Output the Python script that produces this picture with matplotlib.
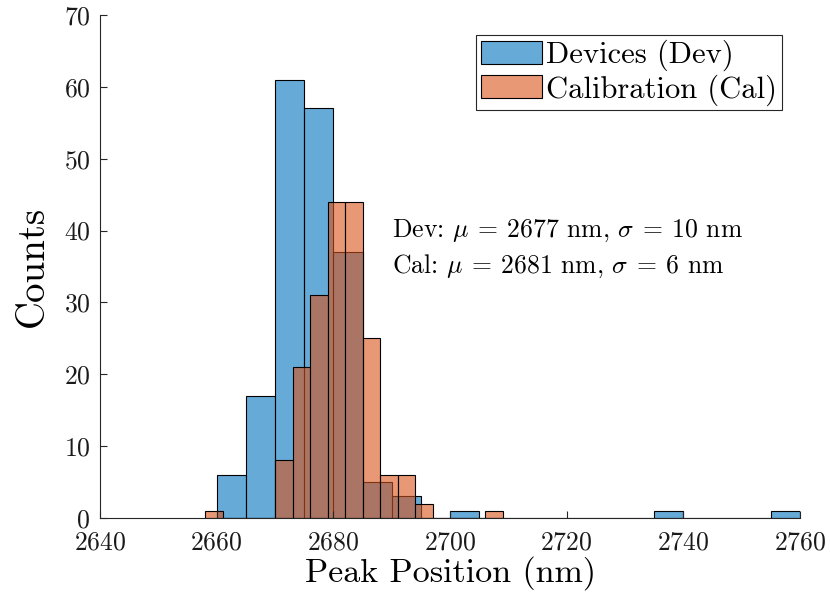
import numpy as np
import matplotlib
matplotlib.use("Agg")
import matplotlib.pyplot as plt

plt.rcParams["font.family"] = "serif"
plt.rcParams["font.serif"] = ["cmr10", "DejaVu Serif"]
plt.rcParams["mathtext.fontset"] = "cm"
plt.rcParams["axes.formatter.use_mathtext"] = True

# Histogram bin edges and counts
dev_edges = np.arange(2660, 2761, 5)
dev_counts = [6, 17, 61, 57, 37, 5, 3, 0, 1, 0, 0, 0, 0, 0, 0, 1, 0, 0, 0, 1]
cal_edges = np.arange(2658, 2710, 3)
cal_counts = [1, 0, 0, 0, 8, 21, 31, 44, 44, 25, 6, 6, 2, 0, 0, 0, 1]

dev_label = "Devices (Dev)"
cal_label = "Calibration (Cal)"
dev_stats = r"Dev: $\mu\:=\:2677$ nm, $\sigma\:=\:10$ nm"
cal_stats = r"Cal: $\mu\:=\:2681$ nm, $\sigma\:=\:6$ nm"

blue = (0.0, 0.447, 0.741, 0.6)
orange = (0.85, 0.325, 0.098, 0.6)
axis_gray = (0.15, 0.15, 0.15)

fig = plt.figure(figsize=(8.3, 5.96), dpi=100)
ax = fig.add_axes([0.1205, 0.1309, 0.8434, 0.844])

ax.bar(dev_edges[:-1], dev_counts, width=np.diff(dev_edges), align="edge",
       facecolor=blue, edgecolor="black", linewidth=0.8, label=dev_label)
ax.bar(cal_edges[:-1], cal_counts, width=np.diff(cal_edges), align="edge",
       facecolor=orange, edgecolor="black", linewidth=0.8, label=cal_label)

ax.set_xlim(2640, 2760)
ax.set_ylim(0, 70)
ax.set_xticks(np.arange(2640, 2761, 20))
ax.set_yticks(np.arange(0, 71, 10))

for side in ("top", "right"):
    ax.spines[side].set_visible(False)
for side in ("left", "bottom"):
    ax.spines[side].set_color(axis_gray)
    ax.spines[side].set_linewidth(0.8)
ax.tick_params(direction="in", length=5, width=0.8, color=axis_gray,
               labelsize=18.5, labelcolor=(0.1, 0.1, 0.1))
ax.tick_params(axis="x", pad=9)
ax.tick_params(axis="y", pad=7)

ax.set_xlabel("Peak Position (nm)", fontsize=24.5, labelpad=1)
ax.set_ylabel("Counts", fontsize=28, labelpad=9)

ax.text(2690, 40, dev_stats, fontsize=18.5, va="center", ha="left")
ax.text(2690, 35, cal_stats, fontsize=18.5, va="center", ha="left")

leg = ax.legend(loc="upper right", fontsize=22, frameon=True, fancybox=False,
                edgecolor=axis_gray, framealpha=1, handlelength=2.0,
                handleheight=0.8, handletextpad=0.15, borderpad=0.15,
                labelspacing=0.1, borderaxespad=0.0,
                bbox_to_anchor=(0.974, 0.96))
leg.get_frame().set_linewidth(0.8)

fig.savefig("out.png", dpi=100)
